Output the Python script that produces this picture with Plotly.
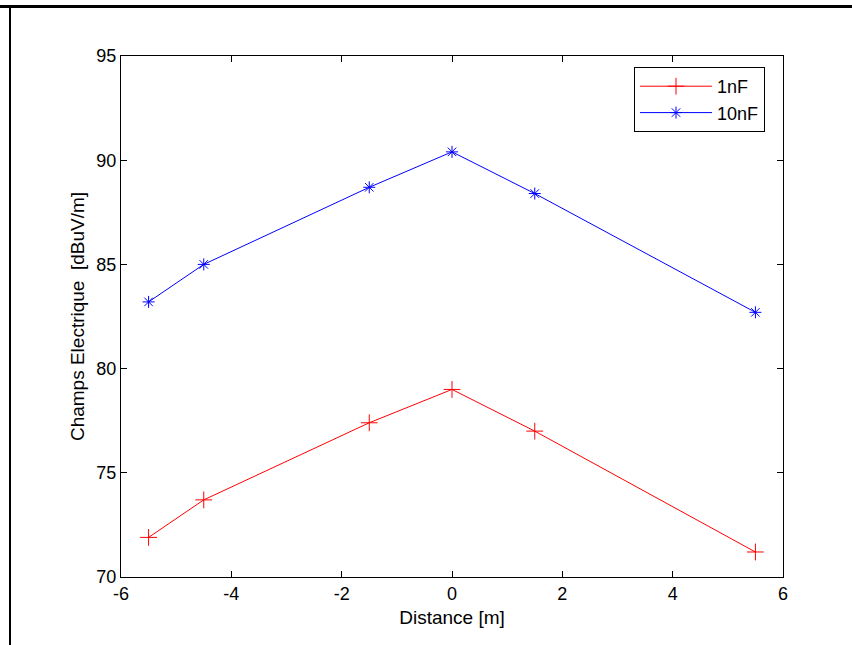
import plotly.graph_objects as go

distance = [-5.5, -4.5, -1.5, 0, 1.5, 5.5]
champ_1nF = [71.9, 73.7, 77.4, 79.0, 77.0, 71.2]
champ_10nF = [83.2, 85.0, 88.7, 90.4, 88.4, 82.7]
series_names = ["1nF", "10nF"]
x_ticks = [-6, -4, -2, 0, 2, 4, 6]
x_tick_labels = ["-6", "-4", "-2", "0", "2", "4", "6"]
y_ticks = [70, 75, 80, 85, 90, 95]
y_tick_labels = ["70", "75", "80", "85", "90", "95"]

L, R, T, B = 121, 69, 56, 68
W, H = 852, 645
pw, ph = W - L - R, H - T - B

fig = go.Figure()
fig.add_trace(go.Scatter(
    x=distance, y=champ_1nF, name=series_names[0], mode="lines+markers",
    line=dict(color="#ff0000", width=1),
    marker=dict(symbol="cross-thin-open", size=12, color="#ff0000",
                line=dict(color="#ff0000", width=1)),
))
fig.add_trace(go.Scatter(
    x=distance, y=champ_10nF, name=series_names[1], mode="lines+markers",
    line=dict(color="#0000ff", width=1),
    marker=dict(symbol="asterisk-open", size=10, color="#0000ff",
                line=dict(color="#0000ff", width=1)),
))

axis_common = dict(
    showgrid=False, zeroline=False, showline=True, linecolor="black",
    linewidth=1, mirror="ticks", ticks="inside", ticklen=6,
    tickcolor="black", tickfont=dict(size=18, color="black"),
)
fig.update_xaxes(range=[-6, 6], tickvals=x_ticks, ticktext=x_tick_labels,
                 title=dict(text="Distance [m]", font=dict(size=19, color="black"), standoff=8),
                 **axis_common)
fig.update_yaxes(range=[70, 95], tickvals=y_ticks, ticktext=y_tick_labels,
                 title=dict(text="Champs Electrique  [dBuV/m]", font=dict(size=19, color="black"), standoff=6),
                 **axis_common)

def px(xp):
    return (xp - L) / pw

def py(yp):
    return (H - B - yp) / ph

fig.add_shape(type="line", xref="paper", yref="paper",
              x0=px(0), x1=px(W), y0=py(6.5), y1=py(6.5),
              line=dict(color="black", width=3))
fig.add_shape(type="line", xref="paper", yref="paper",
              x0=px(10), x1=px(10), y0=py(6.5), y1=py(H),
              line=dict(color="black", width=2))

fig.update_layout(
    width=W, height=H,
    margin=dict(l=L, r=R, t=T, b=B),
    paper_bgcolor="white", plot_bgcolor="white",
    font=dict(family="Liberation Sans, Arial, sans-serif", size=18, color="black"),
    legend=dict(x=px(634), y=py(67), xanchor="left", yanchor="top",
                bgcolor="white", bordercolor="black", borderwidth=1,
                font=dict(size=18), tracegroupgap=0, itemwidth=72),
    showlegend=True,
)

fig.write_html("out.html", config={"displayModeBar": False},
               post_script="document.body.style.margin='0';document.body.style.overflow='hidden';")
